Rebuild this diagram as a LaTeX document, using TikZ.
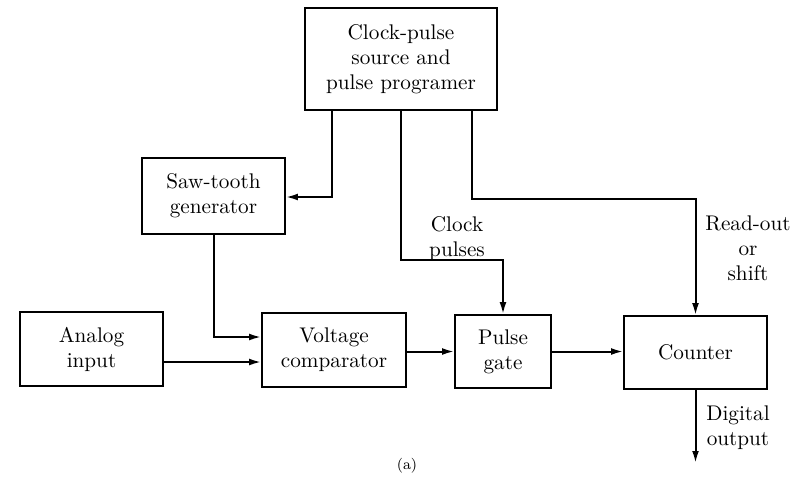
\documentclass[tikz,border=0pt]{standalone}
\usetikzlibrary{arrows.meta}
\tikzset{
  blk/.style={draw, line width=0.8pt, align=center, inner sep=0pt,
    font=\fontsize{10.6}{12.5}\selectfont},
  arr/.style={line width=1pt, -{Latex[length=6pt,width=3.4pt]}},
  lbl/.style={align=center, font=\fontsize{10.6}{12.5}\selectfont}
}
\begin{document}
\begin{tikzpicture}[x=0.5pt,y=-0.5pt]
  \useasboundingbox (0,0) rectangle (801,484);
  % blocks
  \node[blk, minimum width=96pt, minimum height=51pt] (clock) at (401,59)
    {Clock-pulse\\source and\\pulse programer};
  \node[blk, minimum width=71.5pt, minimum height=38pt] (saw) at (213.5,196)
    {Saw-tooth\\generator};
  \node[blk, minimum width=71.5pt, minimum height=37pt] (analog) at (91.5,349)
    {Analog\\input};
  \node[blk, minimum width=72pt, minimum height=37pt] (comp) at (334,350)
    {Voltage\\comparator};
  \node[blk, minimum width=48pt, minimum height=36.5pt] (gate) at (503,351.5)
    {Pulse\\gate};
  \node[blk, minimum width=71.5pt, minimum height=36.5pt] (counter) at (695.5,352.5)
    {Counter};
  % bends of the leads
  \coordinate (sawtap) at (332,197);
  \coordinate (clkbend) at (401,260);
  \coordinate (rdbend) at (472,199);
  \coordinate (digout) at (695.5,463);
  % connectors
  \draw[arr] (clock.south -| sawtap) -- (sawtap) -- (saw.east |- sawtap);
  \draw[arr] (clock.south) -- (clkbend) -| (gate.north);
  \draw[arr] (clock.south -| rdbend) -- (rdbend) -| (counter.north);
  \draw[arr] (saw.south) |- ([yshift=6.5pt]comp.west);
  \draw[arr] ([yshift=-6pt]comp.west -| analog.east) -- ([yshift=-6pt]comp.west);
  \draw[arr] (comp.east |- gate) -- (gate.west);
  \draw[arr] (gate.east) -- (counter.west |- gate);
  \draw[arr] (counter.south) -- (digout);
  % labels
  \node[lbl] (clklbl) at (457,239) {Clock\\pulses};
  \node[lbl] (rdlbl) at (748,248) {Read-out\\or\\shift};
  \node[lbl] (outlbl) at (738,428) {Digital\\output};
  \node[font=\fontsize{7.5}{9}\selectfont] (cap) at (407,466) {(a)};
\end{tikzpicture}
\end{document}
